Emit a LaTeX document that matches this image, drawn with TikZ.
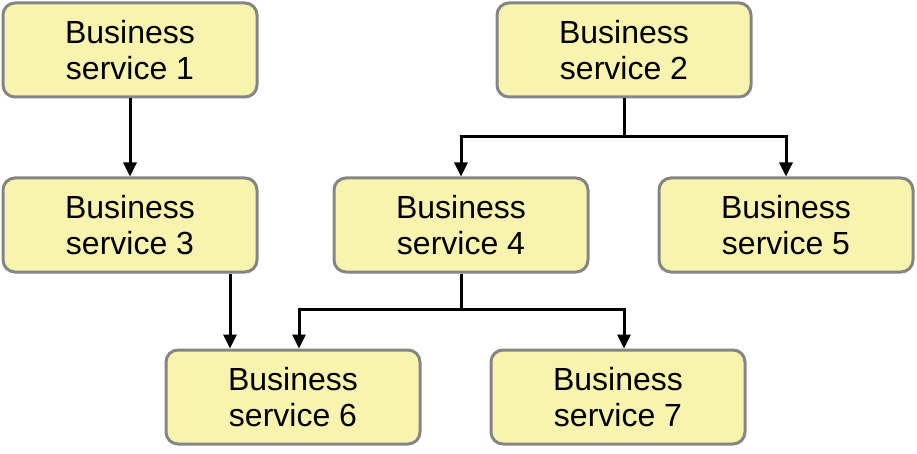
\documentclass[tikz,border=0pt]{standalone}
\usepackage{fontspec}
\setmainfont{Liberation Sans}
\usetikzlibrary{arrows.meta}
\definecolor{boxfill}{HTML}{F8F4B0}
\definecolor{boxline}{HTML}{858585}

\begin{document}
\begin{tikzpicture}[x=1pt, y=-1pt,
	service/.style={draw=boxline, fill=boxfill, line width=3pt, rounded corners=12pt,
		minimum width=254pt, minimum height=94pt, align=center,
		font=\fontsize{32}{36}\selectfont},
	link/.style={line width=3pt, -{Triangle[width=13pt,length=14pt]}}]
	\useasboundingbox (0,0) rectangle (917,454);
	%boxes
	\node[service] (bs1) at (130,50) {Business\\service 1};
	\node[service] (bs2) at (624,50) {Business\\service 2};
	\node[service] (bs3) at (130,225) {Business\\service 3};
	\node[service] (bs4) at (461,225) {Business\\service 4};
	\node[service] (bs5) at (786,225) {Business\\service 5};
	\node[service] (bs6) at (293,397) {Business\\service 6};
	\node[service] (bs7) at (618,397) {Business\\service 7};
	%links
	\draw[link] (bs1.south) -- (bs3.north);
	\draw[link] (bs2.south) -- ++(0,38) -| (bs4.north);
	\draw[link] (bs2.south) -- ++(0,38) -| (bs5.north);
	\draw[link] ([xshift=100pt]bs3.south) -- ([xshift=100pt]bs3.south |- bs6.north);
	\draw[link] (bs4.south) -- ++(0,36) -| ([xshift=6pt]bs6.north);
	\draw[link] (bs4.south) -- ++(0,36) -| ([xshift=6pt]bs7.north);
\end{tikzpicture}
\end{document}
